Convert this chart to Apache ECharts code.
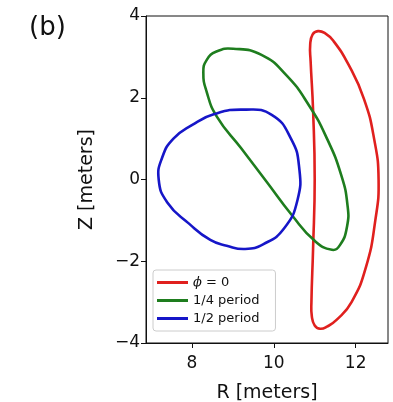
<!DOCTYPE html>
<html>
<head>
<meta charset="utf-8">
<script src="https://cdn.jsdelivr.net/npm/echarts@6/dist/echarts.min.js"></script>
<style>
  html, body { margin: 0; padding: 0; background: #fff; }
  #chart { width: 393px; height: 402px; }
</style>
</head>
<body>
<div id="chart"></div>
<script>
// closed cross sections, R and Z in meters (last point joins back to the first)
var redR = [12.56, 12.48, 12.25, 11.90, 11.54, 11.30, 11.13, 11.00, 10.93, 10.92, 10.96, 11.00, 10.96, 10.90, 10.89, 10.95, 11.08, 11.25, 11.45, 11.82, 12.20, 12.45];
var redZ = [0.00, -1.00, -2.15, -3.00, -3.43, -3.60, -3.65, -3.57, -3.35, -3.00, -1.70, 0.00, 1.70, 2.90, 3.30, 3.55, 3.63, 3.58, 3.40, 2.82, 1.98, 1.00];

var greenR = [9.01, 9.70, 10.30, 10.85, 11.30, 11.65, 11.80, 11.79, 11.62, 11.42, 11.00, 10.45, 9.83, 9.20, 8.61, 8.36, 8.28, 8.36, 8.60];
var greenZ = [3.20, 3.05, 2.56, 1.83, 1.00, 0.10, -0.62, -1.15, -1.60, -1.72, -1.50, -0.88, -0.06, 0.77, 1.54, 2.15, 2.62, 2.92, 3.13];

var blueR = [7.19, 7.28, 7.55, 8.00, 8.55, 9.28, 9.95, 10.42, 10.62, 10.58, 10.25, 9.75, 9.30, 8.85, 8.45, 7.93, 7.40];
var blueZ = [0.00, 0.55, 1.00, 1.33, 1.60, 1.71, 1.58, 1.00, 0.30, -0.50, -1.20, -1.58, -1.70, -1.62, -1.48, -1.08, -0.56];

var seriesNames = ['phi0', '1/4 period', '1/2 period'];
var xTicks = [8, 10, 12];

function pairs(r, z) {
  return r.map(function (v, i) { return [v, z[i]]; });
}

// draws the whole closed loop once, through the cartesian axes
function loop(name, r, z, color) {
  return {
    name: name,
    type: 'custom',
    coordinateSystem: 'cartesian2d',
    data: pairs(r, z),
    encode: { x: 0, y: 1 },
    clip: true,
    itemStyle: { color: color },
    renderItem: function (params, api) {
      if (params.dataIndex !== 0) return null;
      var pts = r.map(function (v, i) { return api.coord([v, z[i]]); });
      return {
        type: 'polygon',
        shape: { points: pts, smooth: 0.5 },
        style: { fill: 'none', stroke: color, lineWidth: 2.6 }
      };
    }
  };
}

var chart = echarts.init(document.getElementById('chart'));
chart.setOption({
  animation: false,
  textStyle: { fontFamily: 'DejaVu Sans' },
  title: {
    text: '(b)',
    left: 24,
    top: 10,
    textStyle: { fontSize: 26, fontWeight: 'normal', color: '#111', fontFamily: 'DejaVu Sans' }
  },
  grid: {
    left: 146, right: 5, top: 16, bottom: 59,
    outerBoundsMode: 'none',
    containLabel: false,
    show: true, borderColor: '#111', borderWidth: 1
  },
  legend: {
    orient: 'vertical',
    left: 153, top: 270,
    padding: [6, 16, 6, 4],
    itemGap: 5,
    itemWidth: 31,
    itemHeight: 3,
    icon: 'rect',
    borderColor: '#cccccc',
    borderWidth: 1,
    borderRadius: 3,
    backgroundColor: 'rgba(255,255,255,0.8)',
    textStyle: {
      fontSize: 13, color: '#111', fontFamily: 'DejaVu Sans',
      rich: { i: { fontStyle: 'italic', fontSize: 13, fontFamily: 'DejaVu Serif' } }
    },
    formatter: function (n) { return n === 'phi0' ? '{i|\u03d5} = 0' : n; },
    data: seriesNames
  },
  xAxis: {
    type: 'value',
    min: 6.88, max: 12.79,
    name: 'R [meters]',
    nameLocation: 'middle',
    nameGap: 41,
    nameTextStyle: { fontSize: 19, color: '#111', fontFamily: 'DejaVu Sans' },
    axisLine: { show: true, onZero: false, lineStyle: { color: '#111', width: 1 } },
    axisTick: { show: true, inside: false, length: 5, customValues: xTicks, lineStyle: { color: '#111' } },
    axisLabel: { customValues: xTicks, fontSize: 17, color: '#111', margin: 12 },
    splitLine: { show: false }
  },
  yAxis: {
    type: 'value',
    min: -4, max: 4, interval: 2,
    name: 'Z [meters]',
    nameLocation: 'middle',
    nameGap: 49,
    nameTextStyle: { fontSize: 19, color: '#111', fontFamily: 'DejaVu Sans' },
    axisLine: { show: true, onZero: false, lineStyle: { color: '#111', width: 1 } },
    axisTick: { show: true, inside: false, length: 5, lineStyle: { color: '#111' } },
    axisLabel: {
      fontSize: 17, color: '#111', margin: 6,
      formatter: function (v) { return v < 0 ? '\u2212' + Math.abs(v) : String(v); }
    },
    splitLine: { show: false }
  },
  series: [
    loop(seriesNames[0], redR, redZ, '#e0201e'),
    loop(seriesNames[1], greenR, greenZ, '#1e7d1e'),
    loop(seriesNames[2], blueR, blueZ, '#1616c8')
  ]
});
</script>
</body>
</html>
